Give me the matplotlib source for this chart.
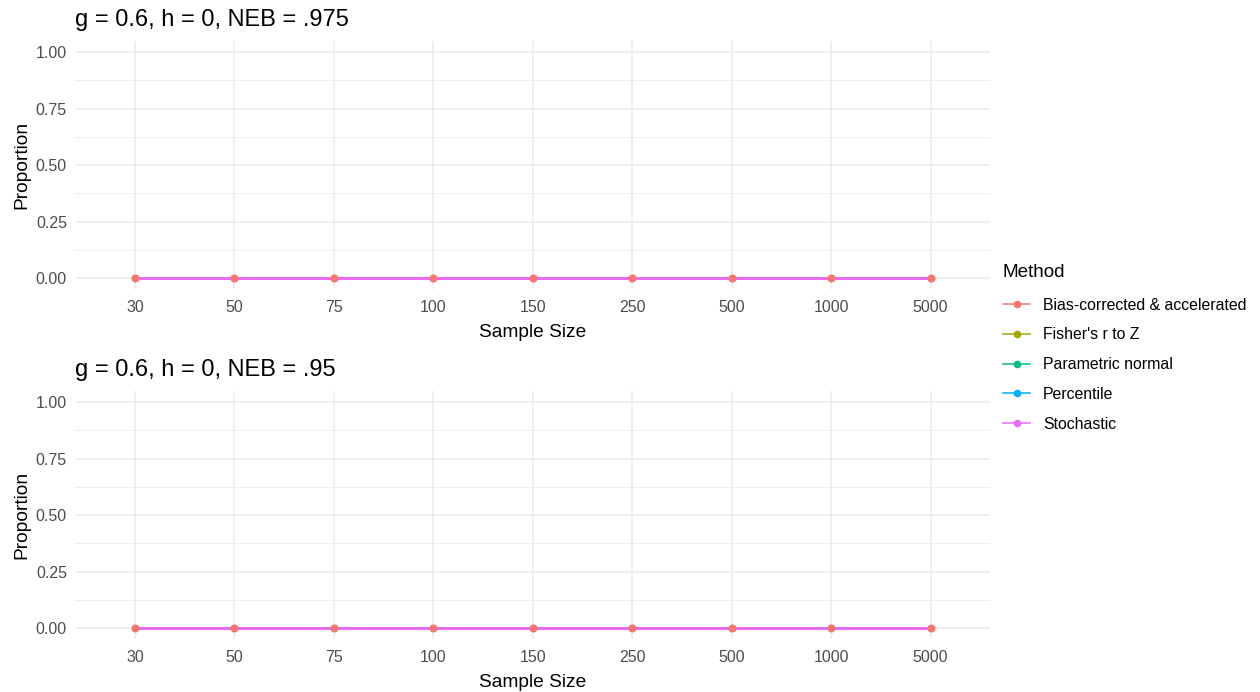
import numpy as np
import matplotlib
matplotlib.use("Agg")
import matplotlib.pyplot as plt
from matplotlib.lines import Line2D

plt.rcParams['font.family'] = ['Liberation Sans', 'DejaVu Sans']

sample_sizes = ["30", "50", "75", "100", "150", "250", "500", "1000", "5000"]
methods = ["Bias-corrected & accelerated", "Fisher's r to Z", "Parametric normal",
           "Percentile", "Stochastic"]
colors = ["#F8766D", "#A3A500", "#00BF7D", "#00B0F6", "#E76BF3"]

titles = ["g = 0.6, h = 0, NEB = .975", "g = 0.6, h = 0, NEB = .95"]
# proportion per method, per panel (all zero)
prop_975 = {
    "Bias-corrected & accelerated": [0, 0, 0, 0, 0, 0, 0, 0, 0],
    "Fisher's r to Z": [0, 0, 0, 0, 0, 0, 0, 0, 0],
    "Parametric normal": [0, 0, 0, 0, 0, 0, 0, 0, 0],
    "Percentile": [0, 0, 0, 0, 0, 0, 0, 0, 0],
    "Stochastic": [0, 0, 0, 0, 0, 0, 0, 0, 0],
}
prop_95 = {
    "Bias-corrected & accelerated": [0, 0, 0, 0, 0, 0, 0, 0, 0],
    "Fisher's r to Z": [0, 0, 0, 0, 0, 0, 0, 0, 0],
    "Parametric normal": [0, 0, 0, 0, 0, 0, 0, 0, 0],
    "Percentile": [0, 0, 0, 0, 0, 0, 0, 0, 0],
    "Stochastic": [0, 0, 0, 0, 0, 0, 0, 0, 0],
}
panels = [prop_975, prop_95]

fig = plt.figure(figsize=(12.6, 6.92), dpi=100)
grid_col = "#EBEBEB"
tick_col = "#4D4D4D"

ax_rects = [[0.0597, 0.582, 0.7262, 0.359],
            [0.0597, 0.0762, 0.7262, 0.359]]

x = np.arange(len(sample_sizes))
n = len(methods)
for rect, data, title in zip(ax_rects, panels, titles):
    ax = fig.add_axes(rect)
    # lines first (last method ends on top), then points (first method on top)
    # no antialiasing on the lines so the top one fully hides the others
    for i, (m, c) in enumerate(zip(methods, colors)):
        ax.plot(x, data[m], color=c, lw=1.0, antialiased=False, zorder=3 + i * 0.01)
    for i, (m, c) in enumerate(reversed(list(zip(methods, colors)))):
        ms = 5.8 if i == n - 1 else 4.8
        ax.plot(x, data[m], 'o', color=c, ms=ms, mec='none', zorder=4 + i * 0.01)
    ax.set_xlim(-0.6, len(sample_sizes) - 0.4)
    ax.set_ylim(-0.05, 1.05)
    ax.set_xticks(x)
    ax.set_xticklabels(sample_sizes)
    ax.set_yticks([0, 0.25, 0.5, 0.75, 1.0])
    ax.set_yticklabels(["0.00", "0.25", "0.50", "0.75", "1.00"])
    ax.set_yticks([0.125, 0.375, 0.625, 0.875], minor=True)
    ax.grid(True, which='major', color=grid_col, lw=1.1)
    ax.grid(True, which='minor', axis='y', color=grid_col, lw=0.6)
    ax.set_axisbelow(True)
    for s in ax.spines.values():
        s.set_visible(False)
    ax.tick_params(which='both', length=0, labelsize=11.5, labelcolor=tick_col)
    ax.tick_params(axis='x', pad=7.5)
    ax.tick_params(axis='y', pad=6)
    ax.set_xlabel("Sample Size", fontsize=13.8, labelpad=6.5)
    ax.set_ylabel("Proportion", fontsize=13.8, labelpad=4)
    ax.set_title(title, fontsize=17, loc='left', pad=11)

handles = [Line2D([0], [0], color=c, lw=1.1, marker='o', ms=5.5, mec='none')
           for c in colors]
leg = fig.legend(handles, methods, loc='upper left', bbox_to_anchor=(0.7845, 0.639),
                 frameon=False, title="Method", fontsize=11.4, title_fontsize=13.6,
                 handlelength=1.75, labelspacing=0.93, handletextpad=0.8,
                 alignment='left')
leg._legend_box.sep = 12

fig.savefig("out.png", dpi=100, facecolor='white')
